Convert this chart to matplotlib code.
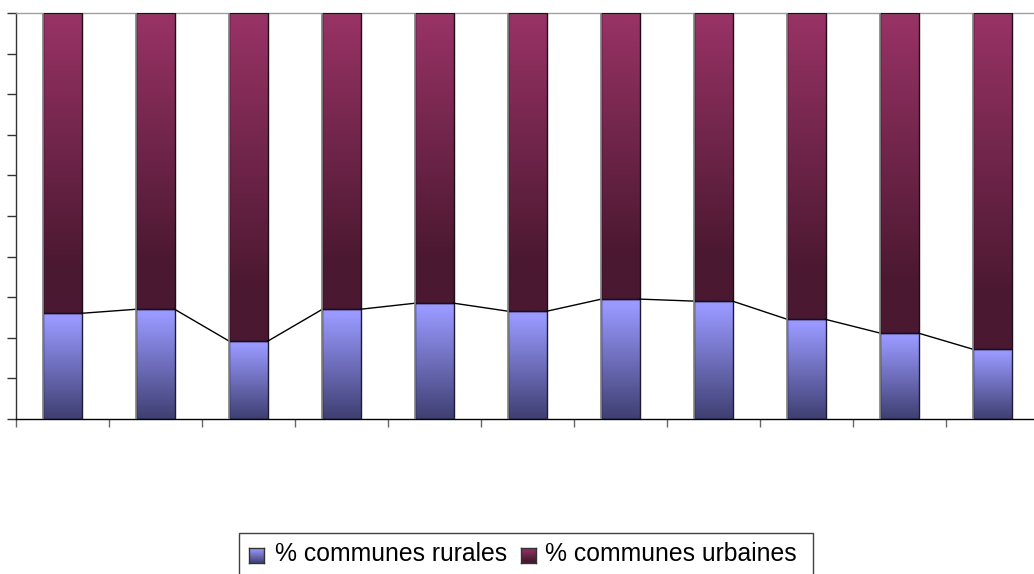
import numpy as np
import matplotlib
matplotlib.use('Agg')
import matplotlib.pyplot as plt
from matplotlib.colors import to_rgb
from matplotlib.patches import Rectangle

# Données (en %)
categories = list(range(11))
rurales  = [26.0, 27.0, 19.1, 27.0, 28.5, 26.5, 29.5, 29.0, 24.5, 21.1, 17.1]
urbaines = [100 - r for r in rurales]
series_labels = ['% communes rurales', '% communes urbaines']

W, H = 1034, 574
plt.rcParams['font.family'] = ['Liberation Sans', 'DejaVu Sans']


def gradient(top, bottom, stops, n=200):
    # dégradé vertical: ligne 0 = haut
    c_top = np.array(to_rgb(top))
    c_bot = np.array(to_rgb(bottom))
    t = np.linspace(0, 1, n)
    a, b = stops
    f = np.clip((t - a) / (b - a), 0, 1)
    return (c_top[None, :] * (1 - f[:, None]) + c_bot[None, :] * f[:, None])[:, None, :]


grad_rur = gradient('#9999ff', '#3f3f72', (0.05, 1.0))
grad_urb = gradient('#993366', '#4a1830', (0.0, 0.85))

fig = plt.figure(figsize=(W / 100, H / 100), dpi=100)
left_px, right_px, top_px, bot_px = 16, 1039, 13.3, 418.7
ax = fig.add_axes([left_px / W, (H - bot_px) / H, (right_px - left_px) / W, (bot_px - top_px) / H])

width = 0.41
x = np.array(categories, dtype=float)

for xi, r, u in zip(x, rurales, urbaines):
    x0, x1 = xi - width / 2, xi + width / 2
    ax.imshow(grad_rur, extent=[x0, x1, 0, r], aspect='auto', interpolation='bilinear', zorder=2)
    ax.imshow(grad_urb, extent=[x0, x1, r, r + u], aspect='auto', interpolation='bilinear', zorder=2)

ax.bar(x, rurales, width, facecolor='none', edgecolor='#1c1c38', linewidth=1.0, zorder=3)
ax.bar(x, urbaines, width, bottom=rurales, facecolor='none', edgecolor='#200c18', linewidth=1.0, zorder=3)
# bord gauche gris
for xi, r, u in zip(x, rurales, urbaines):
    ax.plot([xi - width / 2] * 2, [0, r + u], color='#8a8a8a', lw=1.2, zorder=4, solid_capstyle='butt')

# lignes de série
for i in range(len(x) - 1):
    ax.plot([x[i] + width / 2, x[i + 1] - width / 2], [rurales[i], rurales[i + 1]],
            color='black', lw=1.0, zorder=3)

ax.set_xlim(-0.5, len(x) - 0.5)
ax.set_ylim(0, 100)
ax.set_xticks(np.arange(-0.5, len(x), 1.0))
ax.set_yticks(np.arange(0, 101, 10))
ax.set_xticklabels([])
ax.set_yticklabels([])
ax.tick_params(axis='y', direction='out', length=6.5, width=1, color='#333333')
ax.tick_params(axis='x', direction='out', length=6, width=1, color='#666666')
ax.spines['right'].set_visible(False)
ax.spines['top'].set_color('#a0a0a0')
ax.spines['left'].set_color('#333333')
ax.spines['bottom'].set_color('black')
for s in ax.spines.values():
    s.set_linewidth(1)

# Légende (dessinée à la main, coupée en bas comme l'original)
fig.patches.append(Rectangle((239 / W, (H - 600) / H), (813 - 239) / W, (600 - 533) / H,
                             transform=fig.transFigure, facecolor='white',
                             edgecolor='#404040', linewidth=1, zorder=-1))
for (sq_x, txt_x), grad, lab in zip([(249, 275), (521, 545)], [grad_rur, grad_urb], series_labels):
    sax = fig.add_axes([sq_x / W, (H - 563) / H, 15 / W, 15 / H], zorder=5)
    sax.imshow(grad, aspect='auto', extent=[0, 1, 0, 1])
    sax.set_xticks([])
    sax.set_yticks([])
    for s in sax.spines.values():
        s.set_color('#333333')
        s.set_linewidth(1)
    fig.text(txt_x / W, (H - 561) / H, lab, fontsize=17.8, va='baseline', ha='left', color='black')

fig.savefig('out.png', dpi=100)
